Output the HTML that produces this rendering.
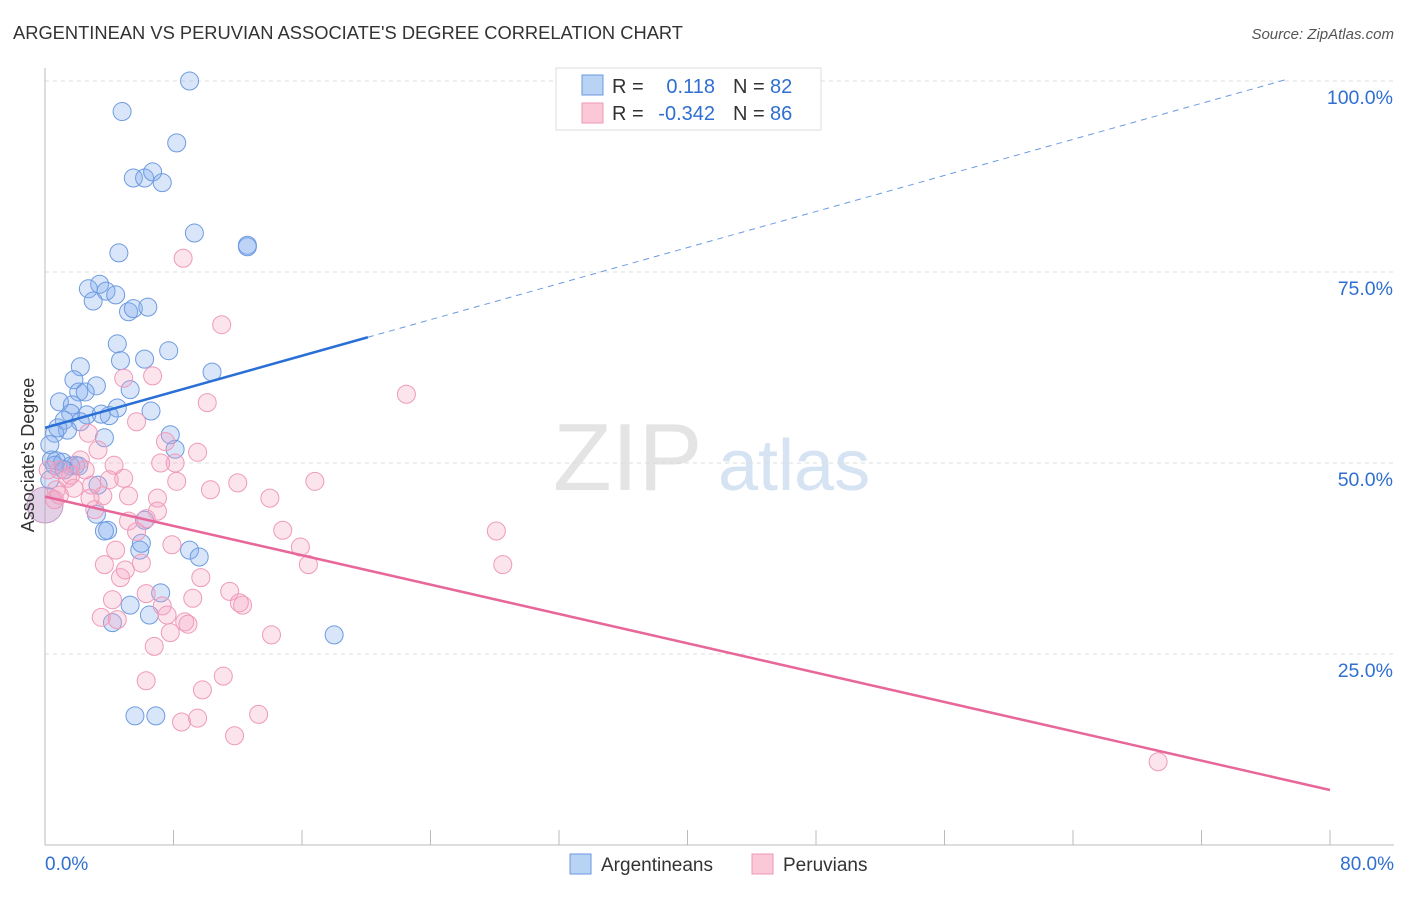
<!DOCTYPE html>
<html><head><meta charset="utf-8"><style>
body{margin:0;background:#fff;font-family:"Liberation Sans",sans-serif;}
svg text{font-family:"Liberation Sans",sans-serif;}
</style></head><body>
<svg id="chart" width="1406" height="892" xmlns="http://www.w3.org/2000/svg">
<text x="13" y="39" font-size="18" fill="#333" textLength="670" lengthAdjust="spacingAndGlyphs">ARGENTINEAN VS PERUVIAN ASSOCIATE'S DEGREE CORRELATION CHART</text>
<text x="1394" y="39" font-size="15" fill="#555" text-anchor="end" font-style="italic">Source: ZipAtlas.com</text>
<text x="553" y="490" font-size="96" fill="#e4e4e4" font-family="Liberation Serif">ZIP</text>
<text x="718" y="490" font-size="72" fill="#d6e3f3">atlas</text>
<g id="grid"></g>
<g id="marks"></g>
<g id="trends"></g>
<text transform="translate(34,455) rotate(-90)" font-size="18" fill="#333" text-anchor="middle">Associate's Degree</text>
<g>
<rect x="556" y="68" width="265" height="62" fill="#fff" stroke="#ddd"/>
<rect x="582" y="75" width="21" height="20" fill="#b9d3f5" stroke="#6a9ae0"/>
<rect x="582" y="103" width="21" height="20" fill="#fbc8d8" stroke="#ee9ab5"/>
<text x="612" y="93" font-size="20" fill="#333">R =</text>
<text x="715" y="93" font-size="20" fill="#2f6fd0" text-anchor="end">0.118</text>
<text x="733" y="93" font-size="20" fill="#333">N =</text>
<text x="770" y="93" font-size="20" fill="#2f6fd0">82</text>
<text x="612" y="120" font-size="20" fill="#333">R =</text>
<text x="715" y="120" font-size="20" fill="#2f6fd0" text-anchor="end">-0.342</text>
<text x="733" y="120" font-size="20" fill="#333">N =</text>
<text x="770" y="120" font-size="20" fill="#2f6fd0">86</text>
</g>
<g>
<rect x="570" y="854" width="21" height="20" fill="#b9d3f5" stroke="#6a9ae0"/>
<text x="601" y="871" font-size="19" fill="#333">Argentineans</text>
<rect x="752" y="854" width="21" height="20" fill="#fbc8d8" stroke="#ee9ab5"/>
<text x="783" y="871" font-size="19" fill="#333">Peruvians</text>
</g>
</svg>
<script>
const xTicks=[0,80];
const yTicks=[25,50,75,100];
const blueX=[9.0,4.8,8.2,5.5,6.2,6.7,7.3,9.3,12.6,12.6,4.6,3.4,2.7,3.8,4.4,3.0,5.2,5.5,6.4,4.5,7.7,4.7,6.2,10.4,2.2,1.8,3.2,2.1,5.3,2.5,0.9,1.7,6.6,4.5,4.0,1.6,2.6,1.2,2.2,3.5,1.4,0.6,0.8,3.7,7.8,8.1,0.3,0.4,0.7,1.9,1.1,1.6,2.1,3.3,3.2,6.2,3.9,3.7,5.9,9.0,9.6,6.0,5.3,6.5,4.2,7.2,18.0,5.6,6.9,0.6,0.3,1.2];
const blueY=[100,96.0,91.9,87.3,87.3,88.1,86.7,80.1,78.5,78.3,77.5,73.4,72.8,72.5,72.0,71.2,69.8,70.2,70.4,65.6,64.7,63.4,63.6,61.9,62.6,60.9,60.1,59.3,59.6,59.3,58.0,57.6,56.8,57.2,56.2,56.5,56.3,55.6,55.4,56.4,54.3,53.9,54.6,53.3,53.7,51.8,52.4,50.4,50.3,49.7,50.1,49.6,49.6,47.1,43.3,42.5,41.2,41.1,38.6,38.6,37.7,39.5,31.4,30.1,29.1,33.0,27.5,16.9,16.9,49.7,47.8,49.1];
const pinkX=[8.6,11.0,22.5,4.9,6.7,10.1,5.7,7.5,2.7,9.5,8.1,4.3,7.2,8.2,12.0,10.3,16.8,14.0,7.0,4.9,3.3,2.2,1.4,0.9,0.7,1.8,3.6,2.9,5.2,7.0,3.1,5.2,14.8,15.9,16.4,28.1,28.5,5.7,6.3,7.9,4.4,3.7,4.7,5.0,6.0,9.7,11.5,4.2,6.3,12.3,12.1,3.5,4.5,7.3,7.6,9.2,8.7,8.9,7.8,14.1,6.8,6.3,11.1,9.8,8.5,9.5,13.3,11.8,69.3,0.6,0.9,0.2,1.6,2.5,2.8,4.0];
const pinkY=[76.8,68.1,59.0,61.1,61.4,57.9,55.4,52.8,53.9,51.4,50.0,49.7,50.0,47.6,47.4,46.5,47.6,45.4,45.4,48.0,51.7,50.4,48.0,49.1,46.5,46.7,45.7,47.1,45.7,43.7,43.9,42.4,41.2,39.0,36.7,41.1,36.7,41.0,42.7,39.3,38.6,36.7,35.0,36.0,36.9,35.0,33.2,32.1,32.9,31.4,31.7,29.8,29.5,31.3,30.1,32.3,29.2,28.9,27.8,27.5,26.0,21.5,22.1,20.3,16.1,16.6,17.1,14.3,10.9,45.2,45.8,49.1,48.4,49.1,45.4,47.8];
const blueTrend=[54.6,0.59];
const pinkTrend=[45.6,-0.48];
const NS="http://www.w3.org/2000/svg";
const X0=45,X1=1330,Y0=845,Y1=81;
function sx(v){return X0+(v-xTicks[0])/(xTicks[1]-xTicks[0])*(X1-X0);}
function sy(v){return Y0-v/100*(Y0-Y1);}
function mk(t,a,p){const e=document.createElementNS(NS,t);for(const k in a)e.setAttribute(k,a[k]);p.appendChild(e);return e;}
const grid=document.getElementById('grid');
yTicks.forEach(t=>{
 const l=mk('line',{x1:X0,x2:1394,y1:sy(t),y2:sy(t),stroke:'#ddd','stroke-dasharray':'4,4'},grid);
 
 
 const tx=mk('text',{x:1393,y:sy(t)+23,'font-size':19.5,fill:'#2f6fd0','text-anchor':'end'},grid);
 tx.textContent=t.toFixed(1)+'%';
 
 
});
const ax=mk('line',{x1:X0,x2:X0,y1:68,y2:Y0,stroke:'#bbb'},grid);


const bx=mk('line',{x1:X0,x2:1394,y1:Y0,y2:Y0,stroke:'#bbb'},grid);


for(let i=0;i<=10;i++){
 const v=xTicks[0]+i*(xTicks[1]-xTicks[0])/10;
 const tk=mk('line',{x1:sx(v),x2:sx(v),y1:Y0,y2:Y0-15,stroke:'#bbb'},grid);
 
 
}
[[xTicks[0],'start',X0],[xTicks[1],'end',1394]].forEach(([v,a,x])=>{
 const t=mk('text',{x:x,y:870,'font-size':19,fill:'#2f6fd0','text-anchor':a},grid);
 t.textContent=v.toFixed(1)+'%';
 
 
});
const marks=document.getElementById('marks');
const big=mk('circle',{cx:sx(0),cy:sy(44.5),r:18,fill:'rgba(190,150,200,0.45)',stroke:'#c89ac8'},marks);


blueX.forEach((x,i)=>{
 const c=mk('circle',{cx:sx(x),cy:sy(blueY[i]),r:9,fill:'rgba(130,172,238,0.3)',stroke:'#6d9be0','stroke-width':1},marks);
 
 
});
pinkX.forEach((x,i)=>{
 const c=mk('circle',{cx:sx(x),cy:sy(pinkY[i]),r:9,fill:'rgba(245,165,195,0.3)',stroke:'#ef9ab8','stroke-width':1},marks);
 
 
});
const tr=document.getElementById('trends');
const bs=mk('line',{x1:sx(0),y1:sy(blueTrend[0]),x2:sx(20.1),y2:sy(blueTrend[0]+blueTrend[1]*20.1),stroke:'#2a6fd6','stroke-width':2.5},tr);


const bd=mk('line',{x1:sx(20.1),y1:sy(blueTrend[0]+blueTrend[1]*20.1),x2:sx(77.2),y2:sy(blueTrend[0]+blueTrend[1]*77.2),stroke:'#6b9be0','stroke-width':1,'stroke-dasharray':'6,5'},tr);


const ps=mk('line',{x1:sx(0),y1:sy(pinkTrend[0]),x2:sx(80),y2:sy(pinkTrend[0]+pinkTrend[1]*80),stroke:'#e8679a','stroke-width':2.5},tr);


</script>
</body></html>
